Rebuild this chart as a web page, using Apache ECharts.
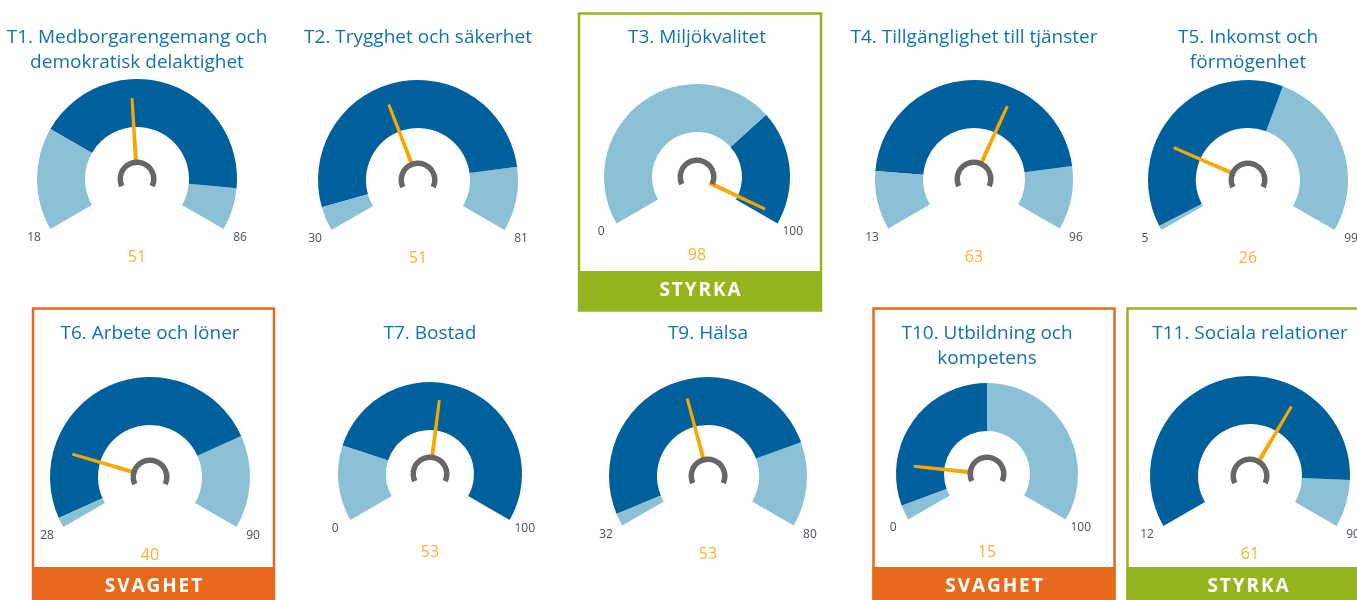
<!DOCTYPE html>
<html>
<head>
<meta charset="utf-8">
<script src="https://cdn.jsdelivr.net/npm/echarts@6/dist/echarts.min.js"></script>
<style>
    html, body { margin: 0; padding: 0; background: #fff; }
    #main { width: 1357px; height: 600px; }
</style>
</head>
<body>
<div id="main"></div>
<script>
    // data, one entry per gauge
    var titles = [
        'T1. Medborgarengemang och\ndemokratisk delaktighet',
        'T2. Trygghet och säkerhet',
        'T3. Miljökvalitet',
        'T4. Tillgänglighet till tjänster',
        'T5. Inkomst och\nförmögenhet',
        'T6. Arbete och löner',
        'T7. Bostad',
        'T9. Hälsa',
        'T10. Utbildning och\nkompetens',
        'T11. Sociala relationer'
    ]
    var minValues = [18, 30, 0, 13, 5, 28, 0, 32, 0, 12]
    var maxValues = [86, 81, 100, 96, 99, 90, 100, 80, 100, 90]
    var values = [51, 51, 98, 63, 26, 40, 53, 53, 15, 61]
    // dark band runs from bandLow to bandHigh, light blue outside it
    var bandLow = [35, 33, 70, 25, 6, 29.5, 20, 33.5, 4, 12]
    var bandHigh = [79, 73, 100, 83, 60, 76, 100, 70, 50, 81]
    var verdicts = ['', '', 'STYRKA', '', '', 'SVAGHET', '', '', 'SVAGHET', 'STYRKA']

    // layout (pixels)
    var centers = [
        [137, 179], [418, 180], [697, 177], [974, 179], [1248, 180],
        [150, 477], [430, 474], [708, 476], [987, 474], [1250, 476]
    ]
    var radii = [100, 100, 93, 99, 100, 100, 92, 99, 91, 100]
    var boxes = {
        2: [579, 13.5, 242, 297],
        5: [33, 308.5, 241, 300],
        8: [873.5, 308.5, 241, 300],
        9: [1127.5, 308.5, 241, 300]
    }

    var DARK = '#00609b'
    var LIGHT = '#8bc0d7'
    var NEEDLE = '#f6a800'
    var FONT = '"Open Sans", "Noto Sans", sans-serif'
    var verdictColor = {STYRKA: '#95b51f', SVAGHET: '#e8691b'}

    var chart = echarts.init(document.getElementById('main'))

    var series = []
    var graphics = []

    titles.forEach(function (title, i) {
        var c = centers[i], R = radii[i]
        var span = maxValues[i] - minValues[i]
        var f1 = (bandLow[i] - minValues[i]) / span
        var f2 = (bandHigh[i] - minValues[i]) / span
        // end labels: 30px box, centred at cx -+ 1.03R, cy + 0.59R
        var d = (1.03 * R + 15) / 0.866
        var padBottom = 2 * (0.5 * d - 0.59 * R)

        series.push({
            type: 'gauge',
            center: c,
            radius: R,
            startAngle: 210,
            endAngle: -30,
            min: minValues[i],
            max: maxValues[i],
            splitNumber: 1,
            axisLine: {
                lineStyle: {
                    width: 48,
                    color: [[f1, LIGHT], [f2, DARK], [1, LIGHT]]
                }
            },
            splitLine: {show: false, length: 0, distance: 0},
            axisTick: {show: false},
            axisLabel: {
                distance: R - d,
                padding: [0, 0, padBottom, 0],
                formatter: '{v|{value}}',
                rich: {
                    v: {width: 30, align: 'center', fontSize: 12, color: '#4a4f57', fontFamily: FONT}
                }
            },
            pointer: {
                icon: 'path://M0.7,0 L3.3,0 L4,10 L0,10 Z',
                length: '81%',
                width: 4.5,
                itemStyle: {color: NEEDLE}
            },
            anchor: {
                show: true,
                showAbove: true,
                size: 28,
                itemStyle: {color: '#fff', borderWidth: 0}
            },
            title: {show: false},
            detail: {
                offsetCenter: [0, 78],
                fontSize: 16,
                fontWeight: 'normal',
                fontFamily: FONT,
                color: '#f7b233',
                formatter: '{value}'
            },
            animation: false,
            data: [{value: values[i], name: title}]
        })

        // small grey arc at the hub
        series.push({
            type: 'gauge',
            center: c,
            radius: 19.5,
            startAngle: 205,
            endAngle: -25,
            z: 5,
            axisLine: {lineStyle: {width: 5.5, color: [[1, '#666666']]}},
            splitLine: {show: false},
            axisTick: {show: false},
            axisLabel: {show: false},
            pointer: {show: false},
            title: {show: false},
            detail: {show: false},
            silent: true,
            animation: false,
            data: [{value: 0}]
        })

        var titleY = i < 5 ? 38 : 334
        graphics.push({
            type: 'text',
            x: c[0],
            y: titleY - 13,
            style: {
                text: title,
                align: 'center',
                verticalAlign: 'top',
                font: '500 19px ' + FONT,
                lineHeight: 25,
                fill: '#1273aa'
            }
        })

        var v = verdicts[i]
        if (v) {
            var b = boxes[i]
            var col = verdictColor[v]
            graphics.push({
                type: 'rect',
                shape: {x: b[0], y: b[1], width: b[2], height: b[3]},
                style: {fill: null, stroke: col, lineWidth: 2.5}
            })
            var barTop = i < 5 ? 271 : 567
            graphics.push({
                type: 'rect',
                shape: {x: b[0] - 1, y: barTop, width: b[2] + 2, height: 40},
                style: {fill: col}
            })
            graphics.push({
                type: 'text',
                x: b[0] + b[2] / 2,
                y: barTop + 20,
                style: {
                    text: v.split('').join('\u200a'),
                    align: 'center',
                    verticalAlign: 'middle',
                    font: 'bold 19px ' + FONT,
                    fill: '#fff'
                }
            })
        }
    })

    chart.setOption({
        backgroundColor: '#fff',
        animation: false,
        series: series,
        graphic: graphics
    })
</script>
</body>
</html>
